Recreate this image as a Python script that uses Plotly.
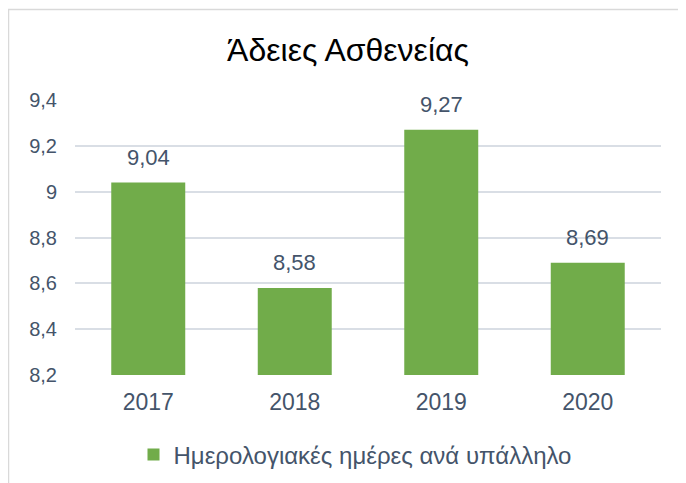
import plotly.graph_objects as go

categories = ["2017", "2018", "2019", "2020"]
values = [9.04, 8.58, 9.27, 8.69]
value_labels = ["9,04", "8,58", "9,27", "8,69"]
y_ticks = [8.2, 8.4, 8.6, 8.8, 9.0, 9.2, 9.4]
y_tick_labels = ["8,2", "8,4", "8,6", "8,8", "9", "9,2", "9,4"]
series_name = "Ημερολογιακές ημέρες ανά υπάλληλο"
title = "Άδειες Ασθενείας"

W, H = 686, 483
L, R, T, B = 67, 33, 92, 116
pw, ph = W - L - R, H - T - B

font_color = "#44546A"
FONT = "Liberation Sans"
fig = go.Figure()
fig.add_trace(go.Bar(
    x=categories, y=[v - 8.2 for v in values], base=8.2,
    name=series_name, marker=dict(color="#71AC4A", line=dict(width=0)),
    showlegend=True, hoverinfo="skip",
))
for i, (v, t) in enumerate(zip(values, value_labels)):
    fig.add_annotation(x=i, y=v, xref="x", yref="y", text=t, showarrow=False, yanchor="bottom",
                       yshift=11, font=dict(size=22, color=font_color, family=FONT))

fig.update_layout(
    width=W, height=H,
    margin=dict(l=L, r=R, t=T, b=B, autoexpand=False),
    paper_bgcolor="white", plot_bgcolor="white",
    font=dict(family=FONT, color=font_color),
    title=dict(text=title, x=340 / W, xanchor="center", y=1 - 42 / H, yanchor="middle",
               font=dict(size=32, color="#000000", family=FONT)),
    bargap=0.495,
    xaxis=dict(type="category", categoryorder="array", categoryarray=categories,
               range=[-0.5, len(categories) - 0.5],
               showline=False, ticks="", tickfont=dict(size=23, color=font_color),
               ticklabelstandoff=11),
    yaxis=dict(range=[8.2, 9.4], tickvals=y_ticks, ticktext=y_tick_labels,
               showgrid=True, gridcolor="#D9DEE5", gridwidth=2, zeroline=False,
               tickfont=dict(size=20, color=font_color), ticks="", ticklen=0,
               ticklabelstandoff=17),
    legend=dict(orientation="h", x=(347 - L) / pw, xanchor="center",
                y=-(447 - (T + ph)) / ph, yanchor="middle",
                font=dict(size=24, color=font_color)),
    shapes=[dict(type="rect", xref="paper", yref="paper",
                 x0=(0.5 - L) / pw, x1=(W + 20 - L) / pw,
                 y0=-(H + 20 - (T + ph)) / ph, y1=(T + ph - 1.5) / ph,
                 line=dict(color="#D9D9D9", width=1.5), fillcolor="rgba(0,0,0,0)", layer="below")],
)
fig.write_html("out.html")
